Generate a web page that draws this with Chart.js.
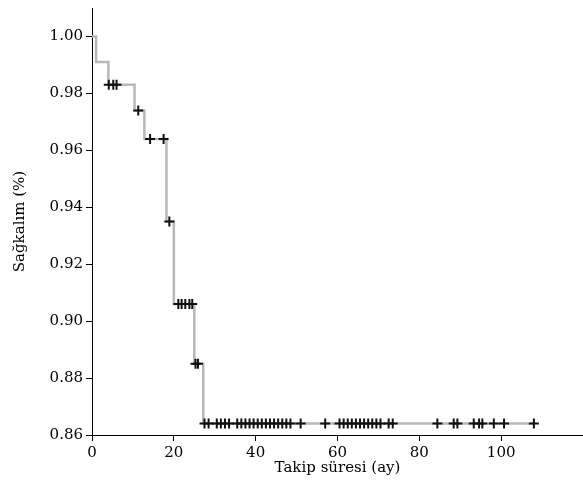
<!DOCTYPE html>
<html>
<head>
<meta charset="utf-8">
<script src="https://cdn.jsdelivr.net/npm/chart.js@4/dist/chart.umd.min.js"></script>
<style>
  body { margin: 0; background: #fff; }
  canvas { display: block; }
</style>
</head>
<body>
<canvas id="grafico" width="583" height="500"></canvas>
<script>
// Curva de supervivencia (Kaplan-Meier): tiempos de evento y supervivencia
const tiemposEvento = [0, 1, 4, 10.4, 12.8, 18.2, 20, 25, 27.2, 108];
const supervivencia = [1.000, 0.991, 0.983, 0.974, 0.964, 0.935, 0.906, 0.885, 0.864, 0.864];

// Tiempos censurados (marcas +)
const tiemposCensura = [
  4.1, 5.2, 6.0, 11.3, 14.2, 17.5, 18.9,
  21.1, 21.9, 22.8, 23.8, 24.5, 25.3, 25.9,
  27.5, 28.5, 30.5, 31.5, 32.5, 33.5, 35.5, 36.5, 37.5, 38.5, 39.5,
  40.5, 41.5, 42.5, 43.5, 44.5, 45.5, 46.5, 47.5, 48.5, 51,
  57, 60.5, 61.5, 62.5, 63.5, 64.5, 65.5, 66.5, 67.5, 68.5, 69.5, 70.5, 72.5, 73.5,
  84.4, 88.4, 89.3, 93.3, 94.6, 95.4, 98.2, 100.7, 108
];

const ticksX = [0, 20, 40, 60, 80, 100];
const ticksY = [0.86, 0.88, 0.90, 0.92, 0.94, 0.96, 0.98, 1.00];

// valor de la curva en un tiempo dado
function valorEn(t) {
  let s = supervivencia[0];
  for (let i = 0; i < tiemposEvento.length; i++) {
    if (tiemposEvento[i] <= t) s = supervivencia[i];
  }
  return s;
}

const curva = tiemposEvento.map((t, i) => ({ x: t, y: supervivencia[i] }));
const censuras = tiemposCensura.map(t => ({ x: t, y: valorEn(t) }));

const fuente = { family: "'DejaVu Serif', serif", size: 15 };

let ctx = document.getElementById('grafico').getContext('2d');
let grafico = new Chart(ctx, {
  type: 'scatter',
  data: {
    datasets: [
      {
        label: 'Censura',
        data: censuras,
        showLine: false,
        pointStyle: 'cross',
        pointRadius: 5,
        pointBorderWidth: 2,
        borderColor: '#111',
        backgroundColor: '#111'
      },
      {
        label: 'Sağkalım',
        data: curva,
        showLine: true,
        stepped: true,
        borderColor: '#b8b8b8',
        borderWidth: 2.5,
        pointRadius: 0,
        fill: false
      }
    ]
  },
  options: {
    responsive: false,
    animation: false,
    layout: { autoPadding: false, padding: { top: 8, right: 0, bottom: 19, left: 0 } },
    plugins: {
      legend: { display: false },
      tooltip: { enabled: false }
    },
    scales: {
      x: {
        type: 'linear',
        min: 0,
        max: 120,
        afterBuildTicks: s => { s.ticks = ticksX.map(v => ({ value: v })); },
        afterFit: s => { s.height = 46; s.paddingRight = 0; s.paddingLeft = 0; },
        grid: { drawOnChartArea: false, drawTicks: true, tickLength: 6, color: '#000' },
        border: { display: true, color: '#000', width: 1 },
        ticks: { color: '#000', font: fuente, padding: 3, maxRotation: 0 },
        title: { display: true, text: 'Takip süresi (ay)', color: '#000', font: fuente, padding: { top: 16 } }
      },
      y: {
        type: 'linear',
        min: 0.86,
        max: 1.01,
        afterBuildTicks: s => { s.ticks = ticksY.map(v => ({ value: v })); },
        afterFit: s => { s.width = 92; s.paddingTop = 0; s.paddingBottom = 0; },
        grid: { drawOnChartArea: false, drawTicks: true, tickLength: 6, color: '#000' },
        border: { display: true, color: '#000', width: 1 },
        ticks: { color: '#000', font: fuente, padding: 3, callback: v => v.toFixed(2) },
        title: { display: true, text: 'Sağkalım (%)', color: '#000', font: fuente, padding: { top: 11 } }
      }
    }
  }
});
</script>
</body>
</html>
